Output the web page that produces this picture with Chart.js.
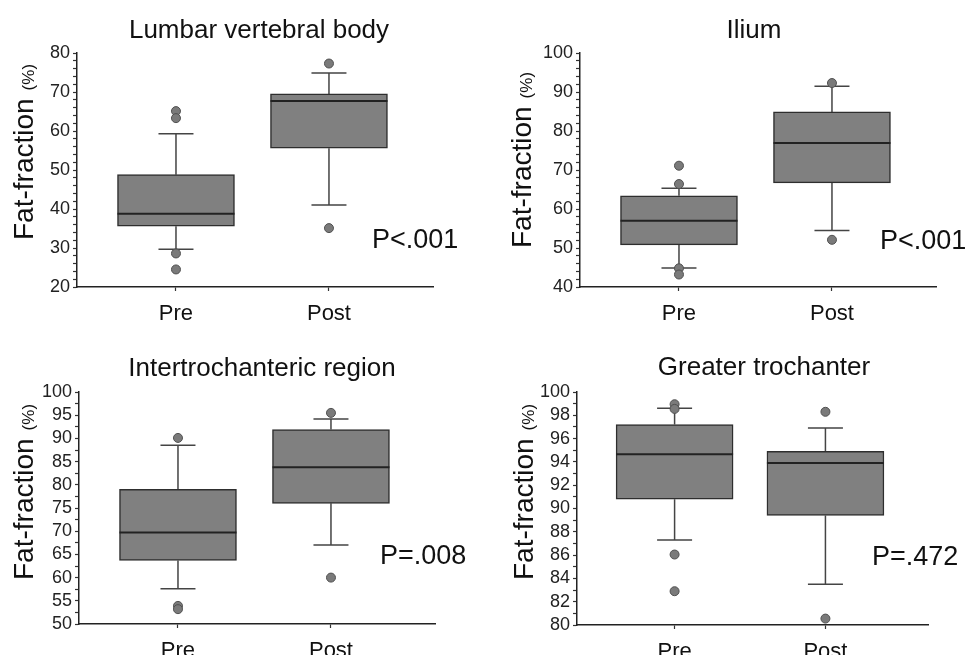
<!DOCTYPE html>
<html>
<head>
<meta charset="utf-8">
<script src="https://cdn.jsdelivr.net/npm/chart.js@4.4.0/dist/chart.umd.min.js"></script>
<style>
  html, body { margin: 0; padding: 0; background: #fff; }
  #wrap { position: relative; width: 966px; height: 655px; overflow: hidden; }
  .panel { position: absolute; }
</style>
</head>
<body>
<div id="wrap">
  <div class="panel" style="left:0;top:0"><canvas id="c0" width="483" height="330"></canvas></div>
  <div class="panel" style="left:483px;top:0"><canvas id="c1" width="483" height="330"></canvas></div>
  <div class="panel" style="left:0;top:330px"><canvas id="c2" width="483" height="325"></canvas></div>
  <div class="panel" style="left:483px;top:330px"><canvas id="c3" width="483" height="325"></canvas></div>
</div>
<script>
// data, one entry per panel, [Pre, Post] inside
const panelTitles = ['Lumbar vertebral body', 'Ilium', 'Intertrochanteric region', 'Greater trochanter'];
const groups = ['Pre', 'Post'];
const pValues = ['P<.001', 'P<.001', 'P=.008', 'P=.472'];
const yTitle = 'Fat-fraction';
const yUnit = '(%)';

const q1 = [[35.6, 55.6], [50.8, 66.7], [63.7, 76.0], [90.8, 89.4]];
const medians = [[38.8, 67.7], [57.0, 76.9], [69.7, 83.8], [94.65, 93.9]];
const q3 = [[48.8, 69.5], [63.4, 84.9], [79.0, 91.9], [97.2, 94.9]];
const whiskerLow = [[29.7, 41.0], [44.9, 54.5], [57.6, 67.0], [87.3, 83.5]];
const whiskerHigh = [[59.3, 74.9], [65.3, 91.5], [88.5, 94.2], [98.6, 96.9]];
const outliersPre = [[65.1, 63.3, 28.6, 24.5], [71.1, 66.4, 44.8, 43.2], [90.1, 53.9, 53.2], [98.95, 98.55, 86.05, 82.9]];
const outliersPost = [[77.3, 35.1], [92.3, 52.1], [95.5, 60.0], [98.3, 80.55]];

const yMin = [20, 40, 50, 80];
const yMax = [80, 100, 100, 100];
const majorStep = [10, 10, 5, 2];
const minorStep = [2, 2, 2.5, 1];

// layout of each panel (canvas pixels)
const frames = [
  { left: 77, top: 53, right: 50, axisH: 43, titleX: 259, titleY: 38, pX: 372, pY: 248, yTitleX: 33, yTitleY: 240 },
  { left: 97, top: 53, right: 30, axisH: 43, titleX: 271, titleY: 38, pX: 397, pY: 249, yTitleX: 48, yTitleY: 248 },
  { left: 79, top: 62, right: 48, axisH: 31, titleX: 262, titleY: 46, pX: 380, pY: 234, yTitleX: 33, yTitleY: 250 },
  { left: 94, top: 62, right: 38, axisH: 30, titleX: 281, titleY: 45, pX: 389, pY: 235, yTitleX: 50, yTitleY: 250 }
];

const FONT = "'Liberation Sans', Arial, sans-serif";

// whiskers behind the boxes, medians on top of them, texts last
const boxParts = {
    id: 'boxParts',
    beforeDatasetsDraw(chart, args, opts) {
        const i = opts.panel;
        const x = chart.scales.x, y = chart.scales.y;
        const ctx = chart.ctx;
        ctx.save();
        ctx.strokeStyle = '#444';
        ctx.lineWidth = 1.5;
        groups.forEach((g, j) => {
            const px = x.getPixelForValue(j + 1);
            const hi = y.getPixelForValue(whiskerHigh[i][j]);
            const lo = y.getPixelForValue(whiskerLow[i][j]);
            ctx.beginPath();
            ctx.moveTo(px, y.getPixelForValue(q3[i][j]));
            ctx.lineTo(px, hi);
            ctx.moveTo(px, y.getPixelForValue(q1[i][j]));
            ctx.lineTo(px, lo);
            ctx.moveTo(px - 17.5, hi);
            ctx.lineTo(px + 17.5, hi);
            ctx.moveTo(px - 17.5, lo);
            ctx.lineTo(px + 17.5, lo);
            ctx.stroke();
        });
        ctx.restore();
    },
    afterDatasetDraw(chart, args, opts) {
        if (args.index !== 0) return;
        const i = opts.panel;
        const y = chart.scales.y;
        const ctx = chart.ctx;
        const meta = chart.getDatasetMeta(0);
        ctx.save();
        ctx.strokeStyle = '#222';
        ctx.lineWidth = 2;
        meta.data.forEach((bar, j) => {
            const py = y.getPixelForValue(medians[i][j]);
            ctx.beginPath();
            ctx.moveTo(bar.x - bar.width / 2, py);
            ctx.lineTo(bar.x + bar.width / 2, py);
            ctx.stroke();
        });
        ctx.restore();
    },
    afterDraw(chart, args, opts) {
        const i = opts.panel;
        const f = frames[i];
        const ctx = chart.ctx;
        ctx.save();
        ctx.fillStyle = '#111';
        ctx.textBaseline = 'alphabetic';

        ctx.font = '26px ' + FONT;
        ctx.textAlign = 'center';
        ctx.fillText(panelTitles[i], f.titleX, f.titleY);

        ctx.font = '27px ' + FONT;
        ctx.textAlign = 'left';
        ctx.fillText(pValues[i], f.pX, f.pY);

        ctx.translate(f.yTitleX, f.yTitleY);
        ctx.rotate(-Math.PI / 2);
        ctx.font = '28px ' + FONT;
        ctx.fillText(yTitle, 0, 0);
        const w = ctx.measureText(yTitle).width;
        ctx.font = '17px ' + FONT;
        ctx.fillText(yUnit, w + 8, 1);
        ctx.restore();
    }
};

function makeChart(i) {
    const f = frames[i];
    const ctx = document.getElementById('c' + i).getContext('2d');
    const boxes = groups.map((g, j) => ({ x: j + 1, y: [q1[i][j], q3[i][j]] }));
    const dots = outliersPre[i].map(v => ({ x: 1, y: v }))
        .concat(outliersPost[i].map(v => ({ x: 2, y: v })));

    return new Chart(ctx, {
        type: 'bar',
        data: {
            datasets: [{
                data: boxes,
                backgroundColor: '#808080',
                borderColor: '#2e2e2e',
                borderWidth: 1.5,
                borderSkipped: false,
                barThickness: 117
            }, {
                type: 'scatter',
                data: dots,
                pointRadius: 4.5,
                backgroundColor: '#7a7a7a',
                borderColor: '#505050',
                borderWidth: 1
            }]
        },
        options: {
            responsive: false,
            animation: false,
            events: [],
            layout: { padding: { top: f.top, right: f.right, left: 0, bottom: 0 } },
            plugins: {
                legend: { display: false },
                tooltip: { enabled: false },
                boxParts: { panel: i }
            },
            scales: {
                x: {
                    type: 'linear',
                    min: 0.353,
                    max: 2.68,
                    offset: false,
                    grid: { offset: false, drawOnChartArea: false, tickLength: 4, tickColor: '#333', tickWidth: 1.2 },
                    border: { color: '#222', width: 1.5 },
                    afterBuildTicks: s => { s.ticks = groups.map((g, j) => ({ value: j + 1 })); },
                    afterFit: s => { s.height = f.axisH; },
                    ticks: {
                        callback: v => groups[v - 1],
                        font: { family: FONT, size: 22 },
                        color: '#111',
                        padding: 10,
                        autoSkip: false,
                        maxRotation: 0
                    }
                },
                y: {
                    min: yMin[i],
                    max: yMax[i],
                    grid: { drawOnChartArea: false, tickLength: 4, tickColor: '#333', tickWidth: 1.2 },
                    border: { color: '#222', width: 1.5 },
                    afterBuildTicks: s => {
                        const n = Math.round((yMax[i] - yMin[i]) / minorStep[i]);
                        const t = [];
                        for (let k = 0; k <= n; k++) {
                            t.push({ value: Math.round((yMin[i] + k * minorStep[i]) * 100) / 100 });
                        }
                        s.ticks = t;
                    },
                    afterFit: s => { s.width = f.left; },
                    ticks: {
                        callback: v => {
                            const r = v / majorStep[i];
                            return Math.abs(r - Math.round(r)) < 1e-6 ? String(v) : '';
                        },
                        font: { family: FONT, size: 18 },
                        color: '#222',
                        padding: 3,
                        autoSkip: false
                    }
                }
            }
        },
        plugins: [boxParts]
    });
}

document.addEventListener('DOMContentLoaded', function() {
    [0, 1, 2, 3].forEach(makeChart);
});
</script>
</body>
</html>
